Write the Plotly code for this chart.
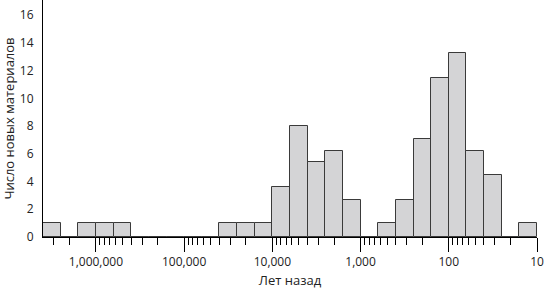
import numpy as np
import plotly.graph_objects as go

# Bins: log10(years ago) lower edges, each bin 0.2 decade wide (oldest first)
bin_lo_log10 = [6.4, 6.2, 6.0, 5.8, 5.6, 5.4, 5.2, 5.0, 4.8, 4.6, 4.4, 4.2, 4.0, 3.8,
                3.6, 3.4, 3.2, 3.0, 2.8, 2.6, 2.4, 2.2, 2.0, 1.8, 1.6, 1.4, 1.2, 1.0]
bin_hi_log10 = [6.6, 6.4, 6.2, 6.0, 5.8, 5.6, 5.4, 5.2, 5.0, 4.8, 4.6, 4.4, 4.2, 4.0,
                3.8, 3.6, 3.4, 3.2, 3.0, 2.8, 2.6, 2.4, 2.2, 2.0, 1.8, 1.6, 1.4, 1.2]
counts = [1, 0, 1, 1, 1, 0, 0, 0, 0, 0, 1, 1, 1, 3.6,
          8, 5.4, 6.2, 2.7, 0, 1, 2.7, 7.1, 11.5, 13.3, 6.2, 4.5, 0, 1]

major_tick_years = [1000000, 100000, 10000, 1000, 100, 10]
major_tick_labels = ["1,000,000", "100,000", "10,000", "1,000", "100", "10"]
y_ticks = [0, 2, 4, 6, 8, 10, 12, 14, 16]

x_title = "Лет назад"
y_title = "Число новых материалов"

lo = np.array(bin_lo_log10)
hi = np.array(bin_hi_log10)
centers = (lo + hi) / 2
widths = hi - lo

minor_vals = []
for k in range(1, 7):
    for m in range(2, 10):
        minor_vals.append(np.log10(m * 10**k))

FONT = "Open Sans"

fig = go.Figure()
fig.add_trace(go.Bar(
    x=centers, y=counts, width=widths,
    marker=dict(color="#d4d4d6", line=dict(color="#3a3a3a", width=1)),
    showlegend=False,
))

fig.update_layout(
    width=545, height=291,
    margin=dict(l=43, r=8, t=0, b=54),
    plot_bgcolor="white", paper_bgcolor="white",
    font=dict(family=FONT, size=12, color="#222"),
    bargap=0,
)
fig.update_xaxes(
    range=[6.6, 1.0],
    tickmode="array",
    tickvals=[np.log10(v) for v in major_tick_years],
    ticktext=major_tick_labels,
    ticks="outside", ticklen=14, tickwidth=1, tickcolor="black",
    minor=dict(tickvals=minor_vals, ticks="outside", ticklen=7, tickwidth=1, tickcolor="black"),
    showline=True, linecolor="black", linewidth=1,
    showgrid=False, zeroline=False,
    tickfont=dict(family=FONT, size=12, color="#222"),
    title=dict(text=x_title, font=dict(family=FONT, size=13, color="#222"), standoff=6),
)
fig.update_yaxes(
    range=[0, 17.1],
    tickmode="array", tickvals=y_ticks,
    ticks="", showline=True, linecolor="black", linewidth=1,
    showgrid=False, zeroline=False,
    ticklabelstandoff=6,
    tickfont=dict(family=FONT, size=12, color="#222"),
    title=dict(text=y_title, font=dict(family=FONT, size=13, color="#222"), standoff=4),
)

fig.write_html("out.html")
